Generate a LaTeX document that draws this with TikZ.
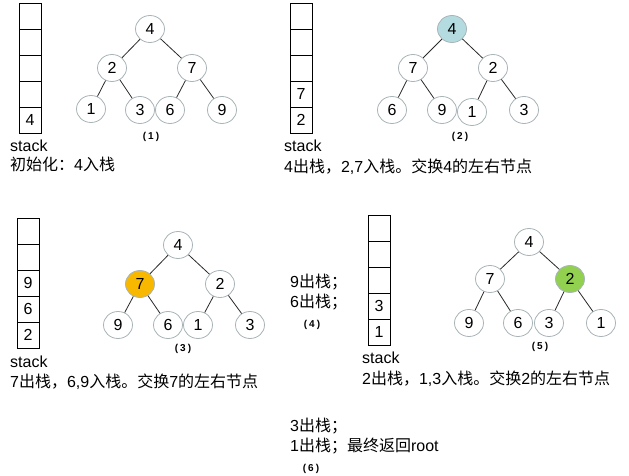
\documentclass[tikz,border=0pt]{standalone}
\usepackage{fontspec}
\setmainfont{Liberation Sans}
\newfontfamily\cjk{Noto Sans CJK SC}
\usetikzlibrary{shapes.geometric}
\definecolor{ring}{HTML}{A9B4B8}
\definecolor{edgec}{HTML}{2A2A2A}
\definecolor{fblue}{HTML}{B4DCE0}
\definecolor{forange}{HTML}{F8B800}
\definecolor{fgreen}{HTML}{92D050}
\newcommand\zh[1]{{\cjk #1}}
\begin{document}
\begin{tikzpicture}[x=1pt,y=-1pt,
  tn/.style={ellipse,draw=ring,fill=white,line width=0.8pt,minimum width=29pt,minimum height=27pt,inner sep=0pt,font=\fontsize{16}{18}\selectfont},
  ed/.style={draw=edgec,line width=0.8pt},
  cell/.style={rectangle,draw=black,line width=0.8pt,minimum width=22pt,minimum height=26pt,inner sep=0pt,font=\fontsize{16}{18}\selectfont},
  txt/.style={anchor=base west,inner sep=0pt,font=\fontsize{16}{18}\selectfont},
  capl/.style={inner sep=0pt,font=\fontsize{10}{11}\selectfont\bfseries}]
\useasboundingbox[fill=white] (0,0) rectangle (629,476);

% ---------- panel 1 ----------
\node[cell] (s1a) at (30,16) {};
\node[cell] (s1b) at (30,42) {};
\node[cell] (s1c) at (30,68) {};
\node[cell] (s1d) at (30,94) {};
\node[cell] (s1e) at (30,120) {4};
\node[txt] (s1l) at (10,152) {stack};
\node[txt] (t1) at (10,171) {\zh{初始化：}4\zh{入栈}};

\node[tn] (a4) at (150,29) {4};
\node[tn] (a2) at (112,68) {2};
\node[tn] (a7) at (192,68) {7};
\node[tn] (a1) at (91,109) {1};
\node[tn] (a3) at (140,110) {3};
\node[tn] (a6) at (170,110) {6};
\node[tn] (a9) at (222,110) {9};
\draw[ed] (a4) -- (a2); \draw[ed] (a4) -- (a7);
\draw[ed] (a2) -- (a1); \draw[ed] (a2) -- (a3);
\draw[ed] (a7) -- (a6); \draw[ed] (a7) -- (a9);
\node[capl] (c1) at (151,137) {(\kern2pt1\kern2pt)};

% ---------- panel 2 ----------
\node[cell] (s2a) at (301,16) {};
\node[cell] (s2b) at (301,42) {};
\node[cell] (s2c) at (301,68) {};
\node[cell] (s2d) at (301,94) {7};
\node[cell] (s2e) at (301,120) {2};
\node[txt] (s2l) at (284,152) {stack};
\node[txt] (t2) at (284,172) {4\zh{出栈，}2,7\zh{入栈。交换}4\zh{的左右节点}};

\node[tn,fill=fblue] (b4) at (452,29) {4};
\node[tn] (b7) at (413,68) {7};
\node[tn] (b2) at (493,68) {2};
\node[tn] (b6) at (392,110) {6};
\node[tn] (b9) at (442,110) {9};
\node[tn] (b1) at (472,112) {1};
\node[tn] (b3) at (524,110) {3};
\draw[ed] (b4) -- (b7); \draw[ed] (b4) -- (b2);
\draw[ed] (b7) -- (b6); \draw[ed] (b7) -- (b9);
\draw[ed] (b2) -- (b1); \draw[ed] (b2) -- (b3);
\node[capl] (c2) at (460,137) {(\kern2pt2\kern2pt)};

% ---------- panel 3 ----------
\node[cell] (s3a) at (28,231) {};
\node[cell] (s3b) at (28,257) {};
\node[cell] (s3c) at (28,283) {9};
\node[cell] (s3d) at (28,309) {6};
\node[cell] (s3e) at (28,335) {2};
\node[txt] (s3l) at (10,367) {stack};
\node[txt] (t3) at (10,387) {7\zh{出栈，}6,9\zh{入栈。交换}7\zh{的左右节点}};

\node[tn] (d4) at (178,245) {4};
\node[tn,fill=forange] (d7) at (140,284) {7};
\node[tn] (d2) at (220,284) {2};
\node[tn] (d9) at (118,325) {9};
\node[tn] (d6) at (168,325) {6};
\node[tn] (d1) at (198,325) {1};
\node[tn] (d3) at (250,325) {3};
\draw[ed] (d4) -- (d7); \draw[ed] (d4) -- (d2);
\draw[ed] (d7) -- (d9); \draw[ed] (d7) -- (d6);
\draw[ed] (d2) -- (d1); \draw[ed] (d2) -- (d3);
\node[capl] (c3) at (183,349) {(\kern2pt3\kern2pt)};

% ---------- panel 4 ----------
\node[txt] (t4a) at (290,287) {9\zh{出栈；}};
\node[txt] (t4b) at (290,307) {6\zh{出栈；}};
\node[capl] (c4) at (312,325) {(\kern2pt4\kern2pt)};

% ---------- panel 5 ----------
\node[cell] (s5a) at (379,228) {};
\node[cell] (s5b) at (379,254) {};
\node[cell] (s5c) at (379,280) {};
\node[cell] (s5d) at (379,306) {3};
\node[cell] (s5e) at (379,332) {1};
\node[txt] (s5l) at (362,363) {stack};
\node[txt] (t5) at (362,384) {2\zh{出栈，}1,3\zh{入栈。交换}2\zh{的左右节点}};

\node[tn] (e4) at (529,242) {4};
\node[tn] (e7) at (490,279) {7};
\node[tn,fill=fgreen] (e2) at (570,279) {2};
\node[tn] (e9) at (469,323) {9};
\node[tn] (e6) at (518,323) {6};
\node[tn] (e3) at (549,323) {3};
\node[tn] (e1) at (601,323) {1};
\draw[ed] (e4) -- (e7); \draw[ed] (e4) -- (e2);
\draw[ed] (e7) -- (e9); \draw[ed] (e7) -- (e6);
\draw[ed] (e2) -- (e3); \draw[ed] (e2) -- (e1);
\node[capl] (c5) at (540,347) {(\kern2pt5\kern2pt)};

% ---------- panel 6 ----------
\node[txt] (t6a) at (290,431) {3\zh{出栈；}};
\node[txt] (t6b) at (290,451) {1\zh{出栈；最终返回}root};
\node[capl] (c6) at (311,469) {(\kern2pt6\kern2pt)};
\end{tikzpicture}
\end{document}
